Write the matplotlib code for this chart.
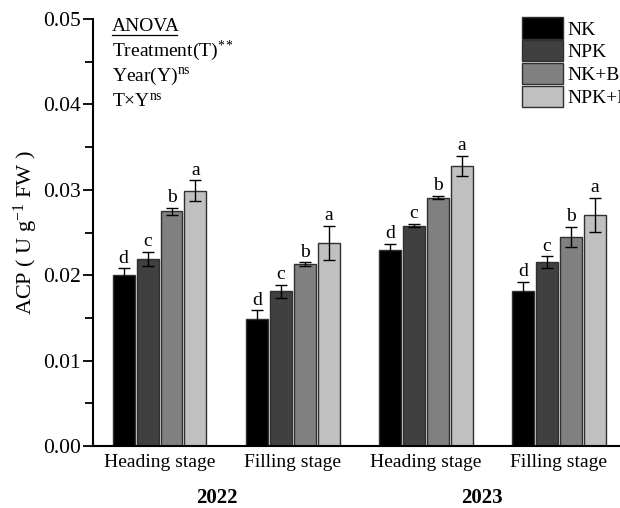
import numpy as np
import matplotlib
matplotlib.use("Agg")
import matplotlib.pyplot as plt
from matplotlib.ticker import MultipleLocator

plt.rcParams['font.family'] = ['Liberation Serif', 'DejaVu Serif']
plt.rcParams['mathtext.fontset'] = 'custom'
plt.rcParams['mathtext.rm'] = 'Liberation Serif'
plt.rcParams['mathtext.it'] = 'Liberation Serif:italic'
plt.rcParams['mathtext.bf'] = 'Liberation Serif:bold'

# data
stages = ['Heading stage', 'Filling stage', 'Heading stage', 'Filling stage']
years = ['2022', '2023']
treatments = ['NK', 'NPK', 'NK+B', 'NPK+B']
colors = ['#000000', '#404040', '#808080', '#c0c0c0']

nk = [0.0200, 0.0149, 0.0230, 0.0182]
npk = [0.0219, 0.0181, 0.0258, 0.0215]
nkb = [0.0275, 0.0213, 0.0291, 0.0245]
npkb = [0.0299, 0.0238, 0.0328, 0.0271]

nk_err = [0.0008, 0.0010, 0.0007, 0.0010]
npk_err = [0.0008, 0.0008, 0.0002, 0.0007]
nkb_err = [0.0004, 0.0002, 0.0002, 0.0012]
npkb_err = [0.0012, 0.0020, 0.0012, 0.0020]

letters = ['d', 'c', 'b', 'a']

values = [nk, npk, nkb, npkb]
errors = [nk_err, npk_err, nkb_err, npkb_err]

fig = plt.figure(figsize=(6.2, 5.08), dpi=100)
ax = fig.add_axes([0.15, 0.122, 0.85, 0.8405])

x = np.arange(len(stages))
w = 0.165
step = 0.18
for i in range(4):
    xs = x + (i - 1.5) * step
    ax.bar(xs, values[i], w, color=colors[i], edgecolor='#303030',
           linewidth=1, label=treatments[i], zorder=2)
    ax.errorbar(xs, values[i], yerr=errors[i], fmt='none', ecolor='black',
                elinewidth=1, capsize=4, capthick=1, zorder=3)
    for xx, v, e in zip(xs, values[i], errors[i]):
        ax.text(xx, v + e + 0.0002, letters[i], ha='center', va='bottom',
                fontsize=14)

ax.set_xlim(-0.5, 3.46)
ax.set_ylim(0, 0.05)
ax.yaxis.set_major_locator(MultipleLocator(0.01))
ax.yaxis.set_minor_locator(MultipleLocator(0.005))
ax.set_yticks([0, 0.01, 0.02, 0.03, 0.04, 0.05])
ax.set_yticklabels(['0.00', '0.01', '0.02', '0.03', '0.04', '0.05'], fontsize=15.5)
ax.tick_params(axis='y', which='major', length=7, width=1.3, direction='out', pad=2)
ax.tick_params(axis='y', which='minor', length=6, width=1.3, direction='out')
ax.set_xticks(x)
ax.set_xticklabels(stages, fontsize=14)
ax.tick_params(axis='x', length=0, pad=6)
for s in ['top', 'right']:
    ax.spines[s].set_visible(False)
ax.spines['left'].set_linewidth(1.5)
ax.spines['bottom'].set_linewidth(1.5)

ax.set_ylabel('ACP ( U g$^{-1}$ FW )', fontsize=16, labelpad=2)

ax.text(0.43, -0.0061, years[0], ha='center', va='center', fontsize=15,
        fontweight='bold')
ax.text(2.42, -0.0061, years[1], ha='center', va='center', fontsize=15,
        fontweight='bold')

# ANOVA notes
tx = 0.036
ax.text(tx, 0.983, 'ANOVA', transform=ax.transAxes, fontsize=14, va='center')
ax.plot([tx, tx + 0.123], [0.962, 0.962], transform=ax.transAxes,
        color='black', lw=0.9, clip_on=False)
ax.text(tx, 0.925, 'Treatment(T)$^{**}$', transform=ax.transAxes, fontsize=14,
        va='center')
ax.text(tx, 0.865, 'Year(Y)$^{\\rm ns}$', transform=ax.transAxes, fontsize=14,
        va='center')
ax.text(tx, 0.805, 'T\u00d7Y$^{\\rm ns}$', transform=ax.transAxes, fontsize=14,
        va='center')

# legend runs past the right edge, as in the original
leg = ax.legend(loc='upper left', bbox_to_anchor=(0.8, 1.022), frameon=False,
                fontsize=14, handlelength=2.1, handleheight=1.3,
                labelspacing=0.08, handletextpad=0.2, borderaxespad=0)

fig.savefig('out.png', dpi=100)
